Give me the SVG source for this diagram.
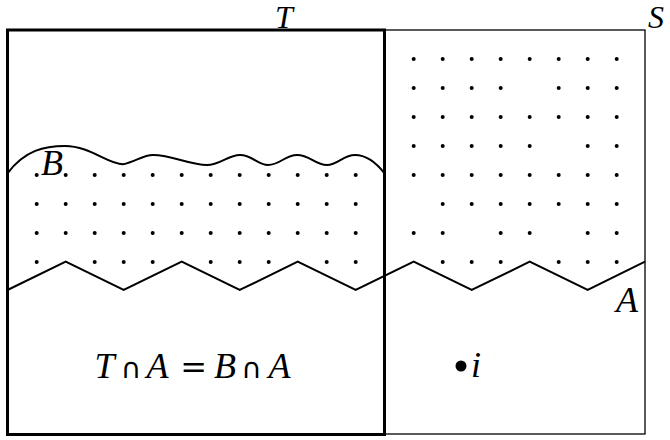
<svg xmlns="http://www.w3.org/2000/svg" width="670" height="440" viewBox="0 0 670 440">
<style>
text{fill:#000;text-anchor:middle}
.lbl{font-family:'Liberation Serif','DejaVu Serif',serif;font-style:italic;font-size:36px}
.top{font-family:'Liberation Serif','DejaVu Serif',serif;font-style:italic;font-size:32px}
.op{font-family:'DejaVu Sans',sans-serif;font-size:28px}
.eq{font-family:'DejaVu Serif',serif;font-size:32px}
</style>
<defs><circle id="d" r="2" fill="#000"/></defs>
<rect width="670" height="440" fill="#fff"/>
<g id="S">
<rect x="385" y="30" width="260" height="404" fill="none" stroke="#000" stroke-width="1.3"/>
<text class="top" x="656" y="28">S</text>
</g>
<g id="dotsRight">
<use href="#d" x="413.7" y="59"/><use href="#d" x="442.7" y="59"/><use href="#d" x="471.7" y="59"/><use href="#d" x="500.7" y="59"/><use href="#d" x="529.7" y="59"/><use href="#d" x="558.7" y="59"/><use href="#d" x="587.7" y="59"/><use href="#d" x="616.7" y="59"/>
<use href="#d" x="413.7" y="88"/><use href="#d" x="442.7" y="88"/><use href="#d" x="471.7" y="88"/><use href="#d" x="500.7" y="88"/><use href="#d" x="558.7" y="88"/><use href="#d" x="587.7" y="88"/><use href="#d" x="616.7" y="88"/>
<use href="#d" x="413.7" y="117"/><use href="#d" x="442.7" y="117"/><use href="#d" x="471.7" y="117"/><use href="#d" x="500.7" y="117"/><use href="#d" x="529.7" y="117"/><use href="#d" x="558.7" y="117"/><use href="#d" x="587.7" y="117"/><use href="#d" x="616.7" y="117"/>
<use href="#d" x="413.7" y="146"/><use href="#d" x="442.7" y="146"/><use href="#d" x="471.7" y="146"/><use href="#d" x="500.7" y="146"/><use href="#d" x="529.7" y="146"/><use href="#d" x="587.7" y="146"/><use href="#d" x="616.7" y="146"/>
<use href="#d" x="413.7" y="175"/><use href="#d" x="442.7" y="175"/><use href="#d" x="471.7" y="175"/><use href="#d" x="500.7" y="175"/><use href="#d" x="529.7" y="175"/><use href="#d" x="558.7" y="175"/><use href="#d" x="587.7" y="175"/><use href="#d" x="616.7" y="175"/>
<use href="#d" x="442.7" y="204"/><use href="#d" x="471.7" y="204"/><use href="#d" x="500.7" y="204"/><use href="#d" x="529.7" y="204"/><use href="#d" x="558.7" y="204"/><use href="#d" x="587.7" y="204"/><use href="#d" x="616.7" y="204"/>
<use href="#d" x="413.7" y="233"/><use href="#d" x="442.7" y="233"/><use href="#d" x="500.7" y="233"/><use href="#d" x="529.7" y="233"/><use href="#d" x="587.7" y="233"/><use href="#d" x="616.7" y="233"/>
<use href="#d" x="442.7" y="262"/><use href="#d" x="471.7" y="262"/><use href="#d" x="500.7" y="262"/><use href="#d" x="558.7" y="262"/><use href="#d" x="587.7" y="262"/><use href="#d" x="616.7" y="262"/>
</g>
<g id="dotsLeft">
<use href="#d" x="36.7" y="175"/><use href="#d" x="65.7" y="175"/><use href="#d" x="94.7" y="175"/><use href="#d" x="123.7" y="175"/><use href="#d" x="152.7" y="175"/><use href="#d" x="181.7" y="175"/><use href="#d" x="210.7" y="175"/><use href="#d" x="239.7" y="175"/><use href="#d" x="268.7" y="175"/><use href="#d" x="297.7" y="175"/><use href="#d" x="326.7" y="175"/><use href="#d" x="355.7" y="175"/>
<use href="#d" x="36.7" y="204"/><use href="#d" x="65.7" y="204"/><use href="#d" x="94.7" y="204"/><use href="#d" x="123.7" y="204"/><use href="#d" x="152.7" y="204"/><use href="#d" x="181.7" y="204"/><use href="#d" x="210.7" y="204"/><use href="#d" x="239.7" y="204"/><use href="#d" x="268.7" y="204"/><use href="#d" x="297.7" y="204"/><use href="#d" x="326.7" y="204"/><use href="#d" x="355.7" y="204"/>
<use href="#d" x="36.7" y="233"/><use href="#d" x="65.7" y="233"/><use href="#d" x="94.7" y="233"/><use href="#d" x="123.7" y="233"/><use href="#d" x="152.7" y="233"/><use href="#d" x="181.7" y="233"/><use href="#d" x="210.7" y="233"/><use href="#d" x="239.7" y="233"/><use href="#d" x="268.7" y="233"/><use href="#d" x="297.7" y="233"/><use href="#d" x="326.7" y="233"/><use href="#d" x="355.7" y="233"/>
<use href="#d" x="36.7" y="262"/><use href="#d" x="94.7" y="262"/><use href="#d" x="123.7" y="262"/><use href="#d" x="152.7" y="262"/><use href="#d" x="210.7" y="262"/><use href="#d" x="239.7" y="262"/><use href="#d" x="268.7" y="262"/><use href="#d" x="326.7" y="262"/><use href="#d" x="355.7" y="262"/>
</g>
<g id="T">
<rect x="7.5" y="30" width="377" height="404.5" fill="none" stroke="#000" stroke-width="3"/>
<text class="top" x="284" y="28">T</text>
</g>
<g id="B">
<path d="M7.5,173.3 C25,150 45,146 65,146 C90,146 108,164.3 123,164.3 C135,162 143,155 153,155 C172,155 190,165 207,165 C220,165 228,155 240,155 C252,155 258,165 268,165 C280,165 285,155 297,155 C310,155 315,165 327,165 C338,165 343,155 355,155 C368,155 378,165 384.5,173.3" fill="none" stroke="#000" stroke-width="2"/>
<text class="lbl" x="52" y="175">B</text>
</g>
<g id="A">
<path d="M7.5,290 L65.7,261.7 L123.7,290 L181.7,261.7 L239.7,290 L297.7,261.7 L355.7,290 L413.7,261.7 L471.7,290 L529.7,261.7 L587.7,290 L645,261.7" fill="none" stroke="#000" stroke-width="2"/>
<text class="lbl" x="627" y="311.5">A</text>
</g>
<g id="formula">
<text class="lbl" x="104.5" y="377.7">T</text>
<text class="op" x="131" y="377.7">∩</text>
<text class="lbl" x="157.5" y="377.7">A</text>
<text class="eq" x="193.7" y="377.7">=</text>
<text class="lbl" x="225" y="377.7">B</text>
<text class="op" x="251.5" y="377.7">∩</text>
<text class="lbl" x="279.5" y="377.7">A</text>
</g>
<g id="i">
<circle cx="461" cy="366" r="5.5" fill="#000"/>
<text class="lbl" x="476" y="377">i</text>
</g>
</svg>
